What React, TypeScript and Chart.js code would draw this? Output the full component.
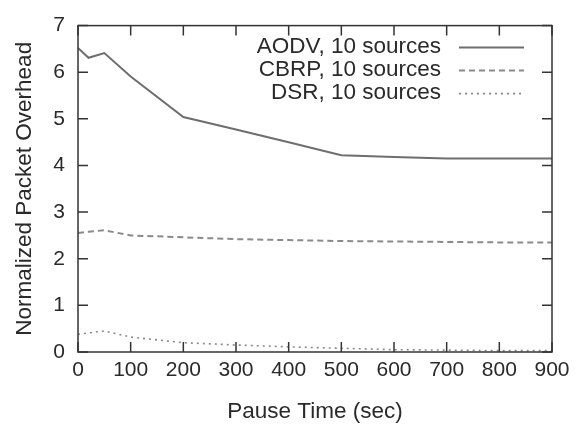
import React, { useEffect, useRef } from "react";
import { Chart, registerables } from "chart.js";

Chart.register(...registerables);

const seriesLabels = ["AODV, 10 sources", "CBRP, 10 sources", "DSR, 10 sources"];
const aodvX = [0, 20, 50, 100, 200, 300, 400, 500, 600, 700, 800, 900];
const aodvY = [6.52, 6.31, 6.41, 5.91, 5.04, 4.77, 4.5, 4.22, 4.18, 4.15, 4.15, 4.15];
const cbrpX = [0, 20, 50, 100, 200, 300, 400, 500, 600, 700, 800, 900];
const cbrpY = [2.55, 2.58, 2.61, 2.5, 2.46, 2.42, 2.4, 2.38, 2.37, 2.36, 2.35, 2.35];
const dsrX = [0, 20, 50, 100, 200, 300, 400, 500, 600, 700, 800, 900];
const dsrY = [0.38, 0.41, 0.45, 0.32, 0.2, 0.15, 0.11, 0.08, 0.05, 0.04, 0.03, 0.03];
const xTitle = "Pause Time (sec)";
const yTitle = "Normalized Packet Overhead";

const FONT = "'Liberation Sans', Arial, Helvetica, sans-serif";
const TEXT = "#2a2a2a";

const toPts = (xs: number[], ys: number[]) => xs.map((x, i) => ({ x, y: ys[i] }));

const boxPlugin = {
  id: "gnuplotBox",
  afterDraw(chart: any) {
    const { ctx, chartArea: a, scales } = chart;
    ctx.save();
    ctx.strokeStyle = "#333";
    ctx.lineWidth = 1.5;
    ctx.strokeRect(a.left, a.top, a.right - a.left, a.bottom - a.top);
    const tl = 10;
    ctx.beginPath();
    for (let v = 0; v <= 900; v += 100) {
      const px = scales.x.getPixelForValue(v);
      ctx.moveTo(px, a.bottom);
      ctx.lineTo(px, a.bottom - tl);
      ctx.moveTo(px, a.top);
      ctx.lineTo(px, a.top + tl);
    }
    for (let v = 0; v <= 7; v += 1) {
      const py = scales.y.getPixelForValue(v);
      ctx.moveTo(a.left, py);
      ctx.lineTo(a.left + tl, py);
      ctx.moveTo(a.right, py);
      ctx.lineTo(a.right - tl, py);
    }
    ctx.stroke();

    // legend
    const textRight = a.right - 111;
    const sx0 = a.right - 93;
    const sx1 = a.right - 28;
    ctx.font = `22.5px ${FONT}`;
    ctx.fillStyle = TEXT;
    ctx.textAlign = "right";
    ctx.textBaseline = "middle";
    chart.data.datasets.forEach((ds: any, i: number) => {
      const y = a.top + 21 + i * 23;
      ctx.fillText(ds.label, textRight, y);
      ctx.save();
      ctx.strokeStyle = ds.borderColor;
      ctx.lineWidth = ds.borderWidth;
      ctx.setLineDash(ds.borderDash || []);
      ctx.beginPath();
      ctx.moveTo(sx0, y + 1);
      ctx.lineTo(sx1, y + 1);
      ctx.stroke();
      ctx.restore();
    });
    ctx.restore();
  },
};

export default function App() {
  const ref = useRef<HTMLCanvasElement>(null);
  useEffect(() => {
    if (!ref.current) return;
    const chart = new Chart(ref.current, {
      type: "line",
      data: {
        datasets: [
          {
            label: seriesLabels[0],
            data: toPts(aodvX, aodvY),
            borderColor: "#6e6e6e",
            borderWidth: 2,
            pointRadius: 0,
            tension: 0,
          },
          {
            label: seriesLabels[1],
            data: toPts(cbrpX, cbrpY),
            borderColor: "#8a8a8a",
            borderWidth: 2,
            borderDash: [6, 4],
            pointRadius: 0,
            tension: 0,
          },
          {
            label: seriesLabels[2],
            data: toPts(dsrX, dsrY),
            borderColor: "#8a8a8a",
            borderWidth: 1.6,
            borderDash: [2, 4],
            pointRadius: 0,
            tension: 0,
          },
        ],
      },
      options: {
        responsive: false,
        animation: false,
        layout: { padding: { top: 20, right: 25, left: 0, bottom: 0 } },
        plugins: { legend: { display: false }, tooltip: { enabled: false } },
        scales: {
          x: {
            type: "linear",
            min: 0,
            max: 900,
            grid: { display: false, drawTicks: false, tickLength: 0 },
            border: { display: false },
            ticks: {
              stepSize: 100,
              padding: 6,
              color: TEXT,
              font: { family: FONT, size: 21 },
              maxRotation: 0,
            },
            title: {
              display: true,
              text: xTitle,
              color: TEXT,
              font: { family: FONT, size: 22.5 },
              padding: { top: 0, bottom: 8 },
            },
            afterFit(scale: any) {
              scale.height = 81;
            },
          },
          y: {
            min: 0,
            max: 7,
            grid: { display: false, drawTicks: false, tickLength: 0 },
            border: { display: false },
            ticks: {
              stepSize: 1,
              padding: 13,
              color: TEXT,
              font: { family: FONT, size: 21 },
            },
            title: {
              display: true,
              text: yTitle,
              color: TEXT,
              font: { family: FONT, size: 22.5 },
              padding: { top: 11, bottom: 0 },
            },
            afterFit(scale: any) {
              scale.width = 78;
            },
          },
        },
      },
      plugins: [boxPlugin],
    });
    return () => chart.destroy();
  }, []);
  return (
    <div style={{ position: "fixed", left: 0, top: 0, width: 577, height: 433, background: "#fff" }}>
      <canvas ref={ref} width={577} height={433} />
    </div>
  );
}
